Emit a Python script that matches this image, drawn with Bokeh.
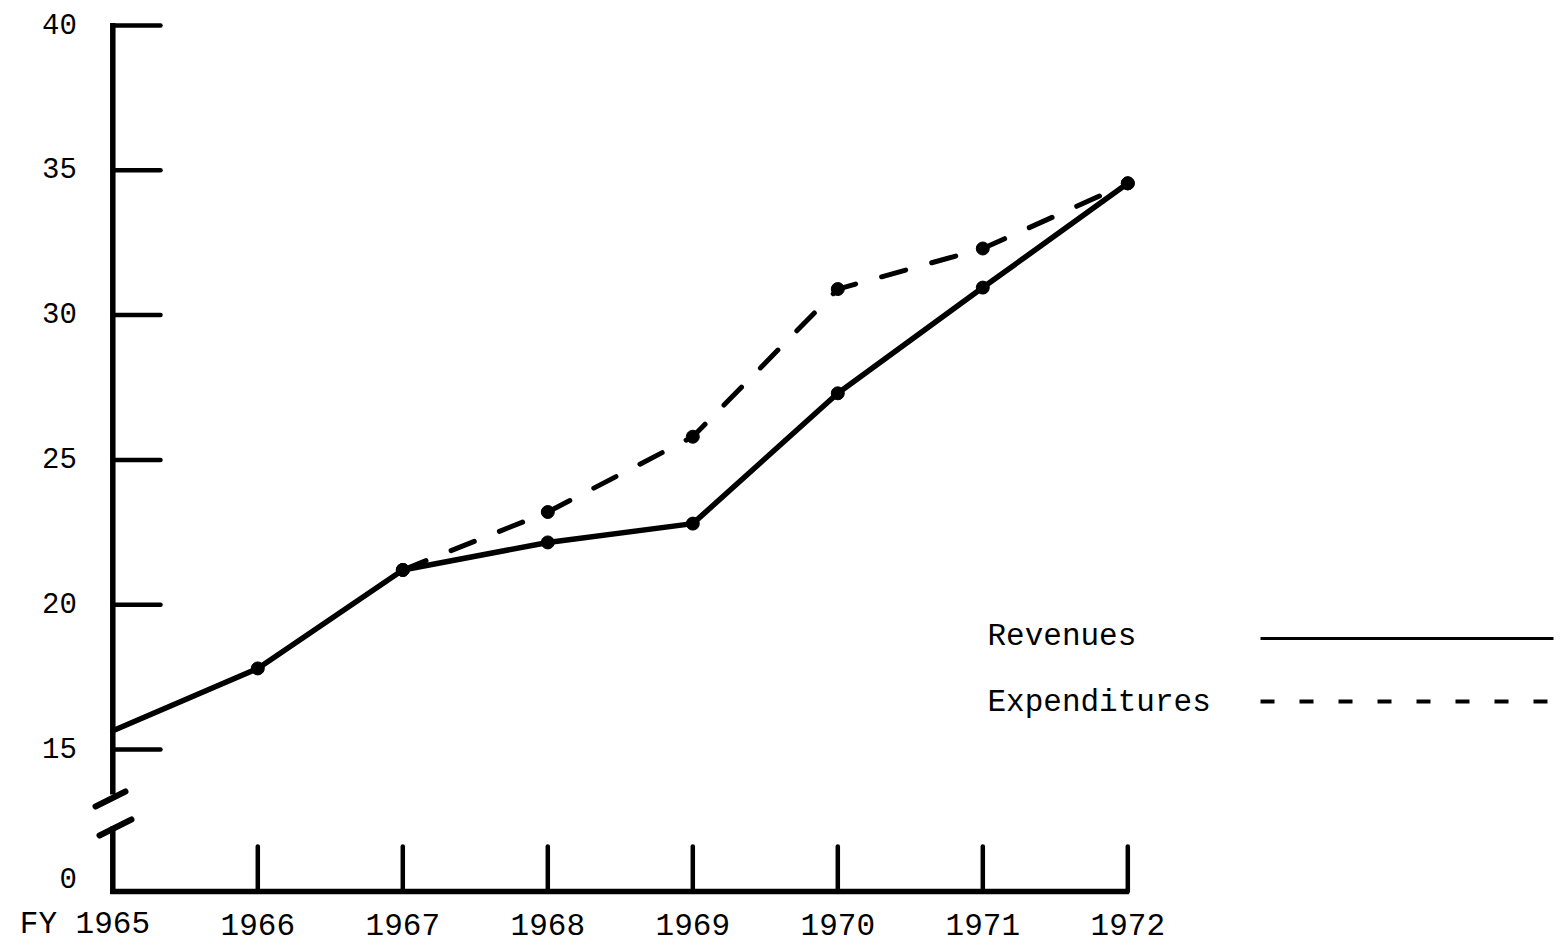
from bokeh.plotting import figure
from bokeh.models import Range1d
from bokeh.core.properties import value
from bokeh.embed import file_html
from bokeh.resources import INLINE

# ---------------- data ----------------
years = [1965, 1966, 1967, 1968, 1969, 1970, 1971, 1972]
revenues = [15.65, 17.8, 21.2, 22.15, 22.8, 27.3, 30.95, 34.55]

exp_years = [1967, 1968, 1969, 1970, 1971, 1972]
expenditures = [21.2, 23.2, 25.8, 30.9, 32.3, 34.55]

y_ticks = [15, 20, 25, 30, 35, 40]
y_tick_labels = ["15", "20", "25", "30", "35", "40"]
zero_label = "0"
x_tick_years = [1965, 1966, 1967, 1968, 1969, 1970, 1971, 1972]
x_tick_labels = ["FY 1965", "1966", "1967", "1968", "1969", "1970", "1971", "1972"]
legend_labels = ["Revenues", "Expenditures"]

# ---------------- layout (pixel geometry) ----------------
W, H = 1560, 945
X0_PX = 112.3          # pixel x of FY 1965
PX_PER_YEAR = 145.0
Y15_PX = 749.0         # pixel y of value 15
PX_PER_UNIT = 28.96


def sx(px):
    return 1965 + (px - X0_PX) / PX_PER_YEAR


def sy(py):
    return 15 - (py - Y15_PX) / PX_PER_UNIT


ZERO_POS = sy(891)     # where the broken axis places "0"
FONT = value("Liberation Mono")

p = figure(width=W, height=H, output_backend="svg", toolbar_location=None,
           x_axis_location=None, y_axis_location=None,
           x_range=Range1d(sx(0), sx(W)),
           y_range=Range1d(sy(H), sy(0)),
           min_border=0, min_border_left=0, min_border_right=0,
           min_border_top=0, min_border_bottom=0)
p.outline_line_color = None
p.grid.visible = False
p.background_fill_color = "white"
p.border_fill_color = "white"

# ---------------- axes (broken y axis) ----------------
AX = 1965
# upper y-axis part
p.segment(x0=[AX], y0=[sy(22.5)], x1=[AX], y1=[sy(794)],
          line_color="black", line_width=5.5)
# lower y-axis part
p.segment(x0=[AX], y0=[sy(826)], x1=[AX], y1=[sy(893.5)],
          line_color="black", line_width=5.5)
# break marks
p.segment(x0=[sx(95), sx(99)], y0=[sy(806), sy(835)],
          x1=[sx(125), sx(131)], y1=[sy(791), sy(819)],
          line_color="black", line_width=6, line_cap="round")
# x axis
p.segment(x0=[AX - 2.5 / PX_PER_YEAR], y0=[ZERO_POS], x1=[1972 + 1 / PX_PER_YEAR], y1=[ZERO_POS],
          line_color="black", line_width=5.5)

# y ticks (pointing inward)
n = len(y_ticks)
p.segment(x0=[AX] * n, y0=y_ticks, x1=[sx(160)] * n, y1=y_ticks,
          line_color="black", line_width=4.5, line_cap="round")
# x ticks (pointing upward)
xt = x_tick_years[1:]
p.segment(x0=xt, y0=[ZERO_POS] * len(xt), x1=xt, y1=[sy(846)] * len(xt),
          line_color="black", line_width=4.5, line_cap="round")

# tick labels
p.text(x=[AX] * n, y=y_ticks, text=y_tick_labels, text_font=FONT,
       text_font_size="29px", text_align="right", text_baseline="middle",
       x_offset=-36, y_offset=-2, text_color="black")
p.text(x=[AX], y=[ZERO_POS], text=[zero_label], text_font=FONT,
       text_font_size="29px", text_align="right", text_baseline="middle",
       x_offset=-36, y_offset=-14, text_color="black")
LBL_FS = 31
p.text(x=x_tick_years, y=[ZERO_POS] * len(x_tick_years), text=x_tick_labels,
       text_font=FONT, text_font_size=f"{LBL_FS}px", text_align="right",
       text_baseline="middle", x_offset=2 * 0.6 * LBL_FS, y_offset=33,
       text_color="black")

# ---------------- series ----------------
p.line(x=exp_years, y=expenditures, line_color="black", line_width=5,
       line_dash="25 27", line_cap="round", line_join="round")
p.line(x=years, y=revenues, line_color="black", line_width=5.5,
       line_join="round", line_cap="round")
p.scatter(x=years[1:], y=revenues[1:], size=13, color="black")
p.scatter(x=exp_years, y=expenditures, size=13, color="black")

# ---------------- legend ----------------
p.text(x=[sx(987), sx(987)], y=[sy(636), sy(702)], text=legend_labels,
       text_font=FONT, text_font_size="31px", text_align="left",
       text_baseline="middle", text_color="black")
p.line(x=[sx(1260), sx(1553)], y=[sy(638), sy(638)], line_color="black",
       line_width=3)
p.line(x=[sx(1260), sx(1550)], y=[sy(701), sy(701)], line_color="black",
       line_width=4, line_dash="14 25")

open("out.html", "w").write(file_html(p, INLINE))
